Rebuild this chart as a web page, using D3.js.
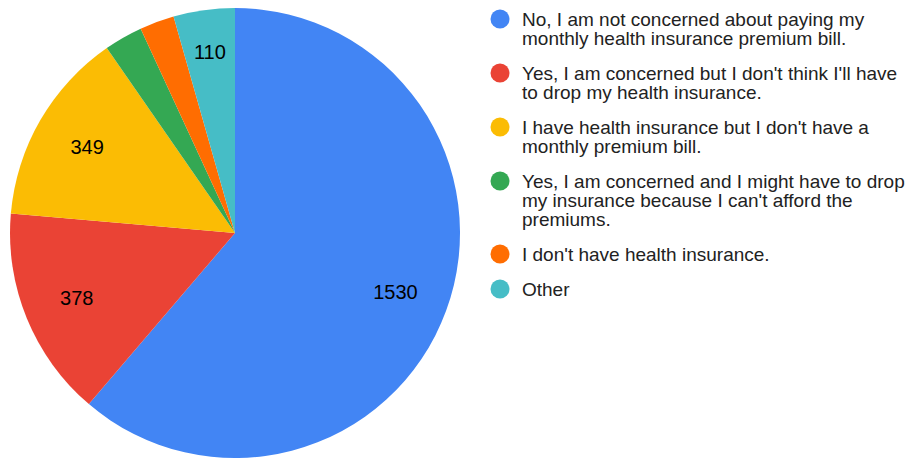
<!DOCTYPE html>
<html>
<head>
<meta charset="utf-8">
<script src="https://cdn.jsdelivr.net/npm/d3@7"></script>
<style>
  body { margin: 0; background: #fff; }
  svg { display: block; font-family: "Liberation Sans", Arial, sans-serif; }
</style>
</head>
<body>
<svg id="chart" width="911" height="459"></svg>
<script>
// answers to the survey question, in chart order
var categories = [
  ["No, I am not concerned about paying my", "monthly health insurance premium bill."],
  ["Yes, I am concerned but I don't think I'll have", "to drop my health insurance."],
  ["I have health insurance but I don't have a", "monthly premium bill."],
  ["Yes, I am concerned and I might have to drop", "my insurance because I can't afford the", "premiums."],
  ["I don't have health insurance."],
  ["Other"]
];
var counts = [1530, 378, 349, 69, 62, 110];
var colors = ["#4285f4", "#ea4335", "#fbbc04", "#34a853", "#ff6d01", "#46bdc6"];

var svg = d3.select("#chart");
var cx = 235, cy = 233, radius = 225;

var pie = d3.pie().sort(null).value(function(d) { return d; });
var arcs = pie(counts);

var arc = d3.arc().innerRadius(0).outerRadius(radius);
var labelArc = d3.arc().innerRadius(radius * 0.76).outerRadius(radius * 0.76);

var g = svg.append("g")
  .attr("transform", "translate(" + cx + "," + cy + ")");

g.selectAll("path")
  .data(arcs)
  .enter().append("path")
  .attr("d", arc)
  .attr("fill", function(d, i) { return colors[i]; });

// small slices get no label, same as the original
g.selectAll("text")
  .data(arcs.filter(function(d) { return d.endAngle - d.startAngle > 0.2; }))
  .enter().append("text")
  .attr("transform", function(d) {
    var c = labelArc.centroid(d);
    // the thin "Other" slice has its label pushed further out
    if (d.endAngle - d.startAngle < 0.4) c = d3.arc().innerRadius(radius * 0.81).outerRadius(radius * 0.81).centroid(d);
    return "translate(" + c + ")";
  })
  .attr("text-anchor", "middle")
  .attr("dy", "0.35em")
  .attr("font-size", 20)
  .attr("fill", "#000")
  .text(function(d) { return d.value; });

// legend
var lineH = 19, gap = 16;
var legend = svg.append("g").attr("transform", "translate(500,19)");
var y = 0;
categories.forEach(function(lines, i) {
  var item = legend.append("g").attr("transform", "translate(0," + y + ")");
  item.append("circle")
    .attr("r", 9.5)
    .attr("fill", colors[i]);
  var t = item.append("text")
    .attr("x", 22)
    .attr("y", 7)
    .attr("font-size", 19)
    .attr("fill", "#222");
  lines.forEach(function(s, j) {
    t.append("tspan")
      .attr("x", 22)
      .attr("dy", j === 0 ? 0 : lineH)
      .text(s);
  });
  y += lines.length * lineH + gap;
});
</script>
</body>
</html>
